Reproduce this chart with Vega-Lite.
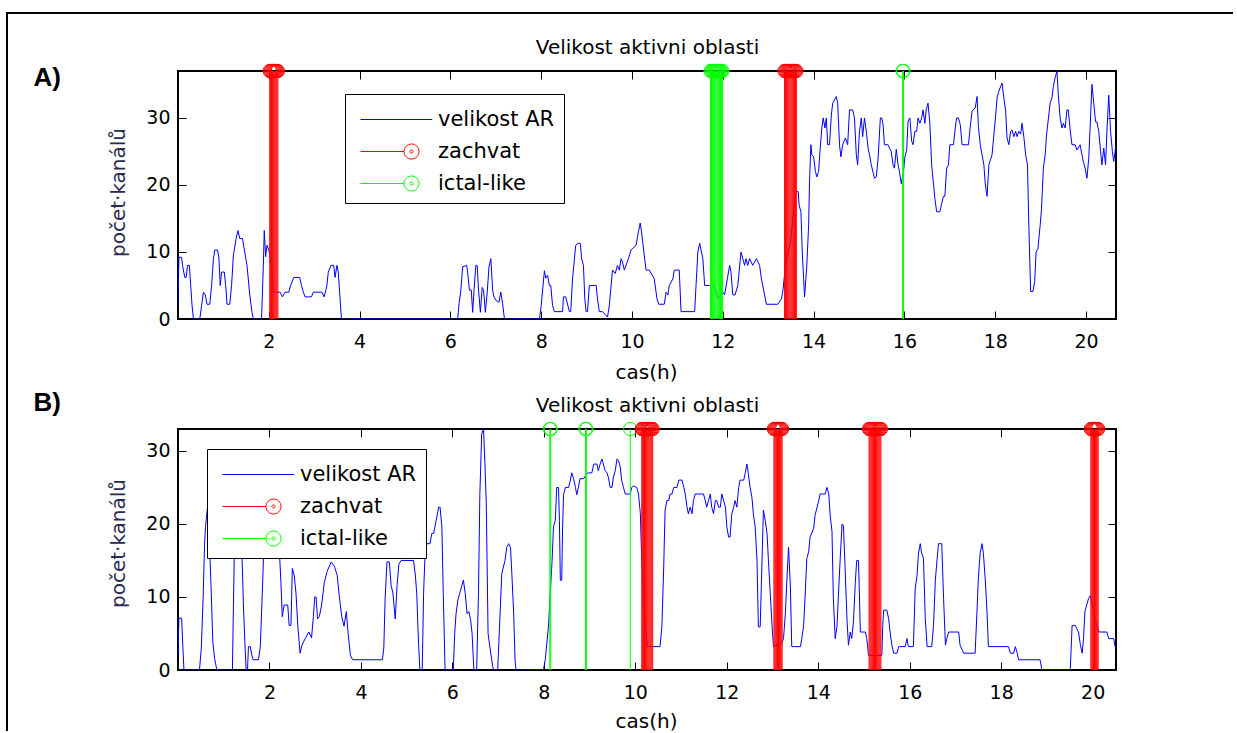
{
"$schema": "https://vega.github.io/schema/vega-lite/v6.json",
"background": "white",
"padding": {"left": 5, "top": 11, "right": 0, "bottom": 0},
"spacing": 110,
"bounds": "flush",
"datasets": {
"lineA": [{"t":0,"v":2},{"t":0.02,"v":9.2},{"t":0.08,"v":9.2},{"t":0.1,"v":8},{"t":0.15,"v":6.2},{"t":0.18,"v":6.2},{"t":0.21,"v":8},{"t":0.25,"v":8},{"t":0.28,"v":5},{"t":0.31,"v":2},{"t":0.34,"v":0},{"t":0.48,"v":0},{"t":0.52,"v":2},{"t":0.56,"v":4},{"t":0.6,"v":3.6},{"t":0.64,"v":2.2},{"t":0.7,"v":2.2},{"t":0.74,"v":5},{"t":0.78,"v":9},{"t":0.81,"v":10.3},{"t":0.87,"v":10.3},{"t":0.9,"v":9.2},{"t":0.93,"v":5},{"t":0.96,"v":7},{"t":1.02,"v":7},{"t":1.05,"v":5},{"t":1.08,"v":2.2},{"t":1.14,"v":2.2},{"t":1.18,"v":5},{"t":1.22,"v":9.5},{"t":1.28,"v":12},{"t":1.32,"v":13.2},{"t":1.36,"v":12},{"t":1.42,"v":12},{"t":1.47,"v":10},{"t":1.52,"v":8},{"t":1.58,"v":3.6},{"t":1.63,"v":1},{"t":1.66,"v":0},{"t":1.84,"v":0},{"t":1.88,"v":8},{"t":1.9,"v":13.2},{"t":1.93,"v":9.3},{"t":1.96,"v":11},{"t":2,"v":10.3},{"t":2.06,"v":8},{"t":2.1,"v":4},{"t":2.25,"v":4},{"t":2.3,"v":3.3},{"t":2.36,"v":4},{"t":2.44,"v":4},{"t":2.48,"v":5},{"t":2.55,"v":6.2},{"t":2.68,"v":6.2},{"t":2.72,"v":5},{"t":2.76,"v":4},{"t":2.8,"v":3.3},{"t":2.94,"v":3.3},{"t":2.98,"v":4},{"t":3.17,"v":4},{"t":3.22,"v":3.3},{"t":3.28,"v":5},{"t":3.31,"v":7},{"t":3.37,"v":8},{"t":3.43,"v":8},{"t":3.46,"v":6.2},{"t":3.5,"v":8},{"t":3.53,"v":7},{"t":3.57,"v":3},{"t":3.6,"v":0},{"t":6.16,"v":0},{"t":6.19,"v":2.3},{"t":6.23,"v":4.3},{"t":6.27,"v":7.8},{"t":6.36,"v":8},{"t":6.39,"v":6.3},{"t":6.42,"v":4.3},{"t":6.46,"v":4.3},{"t":6.49,"v":1},{"t":6.52,"v":4.3},{"t":6.56,"v":8},{"t":6.59,"v":8},{"t":6.62,"v":4.3},{"t":6.66,"v":1},{"t":6.7,"v":4.7},{"t":6.73,"v":4.3},{"t":6.77,"v":1},{"t":6.81,"v":3.9},{"t":6.85,"v":7.8},{"t":6.89,"v":9},{"t":6.93,"v":4.3},{"t":6.96,"v":3.3},{"t":7,"v":2.8},{"t":7.07,"v":2.5},{"t":7.11,"v":4},{"t":7.15,"v":2.3},{"t":7.19,"v":0},{"t":7.96,"v":0},{"t":8,"v":2},{"t":8.07,"v":7.2},{"t":8.1,"v":6.1},{"t":8.14,"v":6.5},{"t":8.18,"v":5},{"t":8.21,"v":5},{"t":8.25,"v":2},{"t":8.29,"v":1.1},{"t":8.47,"v":1.1},{"t":8.49,"v":3.3},{"t":8.54,"v":3.3},{"t":8.62,"v":1.1},{"t":8.65,"v":1.1},{"t":8.69,"v":6},{"t":8.76,"v":11},{"t":8.81,"v":11.3},{"t":8.86,"v":11.3},{"t":8.89,"v":9},{"t":8.93,"v":8},{"t":8.96,"v":3},{"t":8.99,"v":1.1},{"t":9.02,"v":1.1},{"t":9.06,"v":5},{"t":9.21,"v":5},{"t":9.24,"v":3},{"t":9.28,"v":1.1},{"t":9.35,"v":1.1},{"t":9.46,"v":0.3},{"t":9.5,"v":2},{"t":9.57,"v":7.3},{"t":9.63,"v":6.8},{"t":9.68,"v":8},{"t":9.72,"v":7.3},{"t":9.76,"v":9},{"t":9.79,"v":8.5},{"t":9.83,"v":7.3},{"t":9.92,"v":9},{"t":9.98,"v":10.3},{"t":10.09,"v":11},{"t":10.14,"v":13},{"t":10.18,"v":14.3},{"t":10.21,"v":13},{"t":10.26,"v":10},{"t":10.31,"v":7.3},{"t":10.38,"v":7.3},{"t":10.49,"v":6},{"t":10.55,"v":3},{"t":10.59,"v":2.2},{"t":10.71,"v":2.2},{"t":10.75,"v":4},{"t":10.79,"v":3.6},{"t":10.82,"v":5},{"t":10.9,"v":6},{"t":10.93,"v":7.3},{"t":11.04,"v":7.3},{"t":11.08,"v":1.1},{"t":11.38,"v":1.1},{"t":11.41,"v":5},{"t":11.45,"v":10},{"t":11.49,"v":11.3},{"t":11.52,"v":10.3},{"t":11.56,"v":9},{"t":11.6,"v":5},{"t":11.71,"v":5},{"t":11.8,"v":5},{"t":11.9,"v":3},{"t":12,"v":4},{"t":12.04,"v":3.6},{"t":12.1,"v":6},{"t":12.15,"v":8},{"t":12.18,"v":7},{"t":12.22,"v":3.6},{"t":12.27,"v":3.6},{"t":12.33,"v":5},{"t":12.4,"v":10},{"t":12.44,"v":9},{"t":12.48,"v":8},{"t":12.51,"v":9},{"t":12.55,"v":8},{"t":12.59,"v":9},{"t":12.66,"v":8},{"t":12.74,"v":9},{"t":12.81,"v":8},{"t":12.85,"v":6},{"t":12.92,"v":3.6},{"t":12.96,"v":2.2},{"t":13.21,"v":2.2},{"t":13.29,"v":3},{"t":13.32,"v":4},{"t":13.38,"v":8},{"t":13.5,"v":12},{"t":13.6,"v":19},{"t":13.66,"v":19},{"t":13.68,"v":17},{"t":13.72,"v":16},{"t":13.75,"v":10},{"t":13.78,"v":6},{"t":13.8,"v":3.3},{"t":13.83,"v":6},{"t":13.85,"v":8},{"t":13.89,"v":14},{"t":13.91,"v":20.5},{"t":13.94,"v":26},{"t":13.96,"v":24.5},{"t":14,"v":24.2},{"t":14.04,"v":22},{"t":14.07,"v":21.2},{"t":14.11,"v":22},{"t":14.14,"v":25},{"t":14.18,"v":28.5},{"t":14.21,"v":30},{"t":14.25,"v":28.5},{"t":14.28,"v":30},{"t":14.31,"v":26},{"t":14.35,"v":26},{"t":14.39,"v":30.4},{"t":14.42,"v":32.2},{"t":14.5,"v":33.2},{"t":14.53,"v":32.2},{"t":14.57,"v":26},{"t":14.6,"v":24.2},{"t":14.64,"v":26},{"t":14.7,"v":27},{"t":14.75,"v":26},{"t":14.79,"v":31.2},{"t":14.86,"v":31.2},{"t":14.9,"v":30},{"t":14.94,"v":24.5},{"t":14.97,"v":23},{"t":15.01,"v":28},{"t":15.05,"v":30},{"t":15.08,"v":27.2},{"t":15.12,"v":30},{"t":15.16,"v":28},{"t":15.2,"v":25.5},{"t":15.23,"v":24.5},{"t":15.27,"v":23},{"t":15.34,"v":21},{"t":15.38,"v":21.2},{"t":15.42,"v":24},{"t":15.47,"v":30},{"t":15.5,"v":30},{"t":15.53,"v":29},{"t":15.56,"v":26},{"t":15.64,"v":26},{"t":15.67,"v":25.5},{"t":15.71,"v":25},{"t":15.75,"v":23},{"t":15.78,"v":22.5},{"t":15.82,"v":25.3},{"t":15.86,"v":23},{"t":15.89,"v":22},{"t":15.93,"v":20.2},{"t":15.98,"v":22},{"t":16.01,"v":24.2},{"t":16.05,"v":25.2},{"t":16.08,"v":29.5},{"t":16.12,"v":30},{"t":16.16,"v":26.5},{"t":16.19,"v":26},{"t":16.23,"v":28},{"t":16.27,"v":28},{"t":16.3,"v":30},{"t":16.34,"v":29.2},{"t":16.38,"v":30},{"t":16.41,"v":31.2},{"t":16.45,"v":29.2},{"t":16.48,"v":31.2},{"t":16.52,"v":32.2},{"t":16.56,"v":29.2},{"t":16.6,"v":23},{"t":16.67,"v":18},{"t":16.71,"v":16},{"t":16.78,"v":16},{"t":16.82,"v":17.2},{"t":16.86,"v":18.3},{"t":16.89,"v":18.3},{"t":16.93,"v":22.5},{"t":16.97,"v":23},{"t":17,"v":26},{"t":17.08,"v":26},{"t":17.12,"v":28.5},{"t":17.15,"v":30},{"t":17.19,"v":30},{"t":17.23,"v":29},{"t":17.27,"v":26},{"t":17.41,"v":26},{"t":17.45,"v":28.7},{"t":17.49,"v":31},{"t":17.56,"v":31.5},{"t":17.6,"v":33.2},{"t":17.63,"v":28.7},{"t":17.67,"v":26},{"t":17.75,"v":23},{"t":17.78,"v":20.2},{"t":17.82,"v":18.3},{"t":17.86,"v":23},{"t":17.93,"v":24.5},{"t":18.01,"v":30.4},{"t":18.04,"v":33},{"t":18.08,"v":34},{"t":18.15,"v":35.2},{"t":18.19,"v":33},{"t":18.23,"v":31},{"t":18.26,"v":27},{"t":18.3,"v":26},{"t":18.34,"v":28},{"t":18.37,"v":28.2},{"t":18.41,"v":27.2},{"t":18.45,"v":28},{"t":18.48,"v":27.2},{"t":18.52,"v":28},{"t":18.56,"v":27.6},{"t":18.59,"v":29.2},{"t":18.63,"v":27.2},{"t":18.67,"v":24.5},{"t":18.71,"v":23},{"t":18.74,"v":14},{"t":18.78,"v":4.1},{"t":18.83,"v":4.1},{"t":18.87,"v":5.6},{"t":18.9,"v":10},{"t":18.94,"v":10.5},{"t":18.99,"v":14},{"t":19.02,"v":16.5},{"t":19.06,"v":22.5},{"t":19.1,"v":24.5},{"t":19.13,"v":27.5},{"t":19.21,"v":32.2},{"t":19.25,"v":33},{"t":19.28,"v":34.7},{"t":19.32,"v":36},{"t":19.36,"v":37},{"t":19.39,"v":33.4},{"t":19.43,"v":30},{"t":19.47,"v":28.5},{"t":19.5,"v":29.2},{"t":19.54,"v":28.5},{"t":19.58,"v":31.2},{"t":19.61,"v":31.2},{"t":19.65,"v":28.2},{"t":19.69,"v":26},{"t":19.76,"v":26},{"t":19.8,"v":25.2},{"t":19.87,"v":26},{"t":19.91,"v":24.5},{"t":19.94,"v":23.5},{"t":19.98,"v":22.5},{"t":20.02,"v":21},{"t":20.06,"v":24},{"t":20.09,"v":28.5},{"t":20.13,"v":35},{"t":20.17,"v":32.2},{"t":20.21,"v":29.4},{"t":20.24,"v":29.4},{"t":20.28,"v":28},{"t":20.32,"v":25},{"t":20.35,"v":23},{"t":20.39,"v":25.5},{"t":20.43,"v":23},{"t":20.46,"v":28},{"t":20.5,"v":33.4},{"t":20.54,"v":28},{"t":20.58,"v":25},{"t":20.61,"v":23.5},{"t":20.66,"v":26}],
"lineB": [{"t":0,"v":2},{"t":0.02,"v":7.1},{"t":0.08,"v":7.1},{"t":0.1,"v":4},{"t":0.13,"v":0},{"t":0.47,"v":0},{"t":0.51,"v":3},{"t":0.55,"v":10},{"t":0.58,"v":17},{"t":0.6,"v":19.5},{"t":0.64,"v":22},{"t":0.68,"v":19},{"t":0.7,"v":15.5},{"t":0.73,"v":10},{"t":0.76,"v":4},{"t":0.8,"v":1.6},{"t":0.85,"v":0},{"t":1.19,"v":0},{"t":1.21,"v":8},{"t":1.23,"v":15.5},{"t":1.27,"v":20},{"t":1.33,"v":22},{"t":1.38,"v":19},{"t":1.4,"v":15.5},{"t":1.43,"v":9},{"t":1.46,"v":4},{"t":1.49,"v":0},{"t":1.52,"v":0},{"t":1.54,"v":3.2},{"t":1.58,"v":3.2},{"t":1.61,"v":2.2},{"t":1.64,"v":1.4},{"t":1.76,"v":1.4},{"t":1.8,"v":3.2},{"t":1.84,"v":10},{"t":1.87,"v":15.5},{"t":1.95,"v":21},{"t":2.05,"v":23},{"t":2.15,"v":20},{"t":2.22,"v":16},{"t":2.25,"v":12},{"t":2.28,"v":7.3},{"t":2.32,"v":8.9},{"t":2.4,"v":8.9},{"t":2.43,"v":6.1},{"t":2.47,"v":6.1},{"t":2.5,"v":13.9},{"t":2.54,"v":13},{"t":2.58,"v":10.5},{"t":2.62,"v":6},{"t":2.67,"v":2.3},{"t":2.71,"v":3.4},{"t":2.78,"v":4.3},{"t":2.86,"v":5.2},{"t":2.92,"v":4.4},{"t":2.96,"v":7.3},{"t":2.99,"v":10},{"t":3.02,"v":10},{"t":3.05,"v":7},{"t":3.09,"v":7.3},{"t":3.14,"v":8.9},{"t":3.2,"v":12},{"t":3.26,"v":13.5},{"t":3.35,"v":14.8},{"t":3.42,"v":14.2},{"t":3.48,"v":13},{"t":3.52,"v":10.5},{"t":3.58,"v":7.3},{"t":3.63,"v":6},{"t":3.68,"v":8},{"t":3.72,"v":5},{"t":3.77,"v":2},{"t":3.82,"v":1.4},{"t":4.47,"v":1.4},{"t":4.5,"v":3},{"t":4.53,"v":10},{"t":4.57,"v":14.8},{"t":4.62,"v":14.8},{"t":4.66,"v":11.6},{"t":4.7,"v":10.5},{"t":4.75,"v":7},{"t":4.79,"v":11.6},{"t":4.83,"v":14.5},{"t":4.88,"v":15},{"t":5.15,"v":15},{"t":5.19,"v":13},{"t":5.22,"v":10.5},{"t":5.26,"v":3.6},{"t":5.29,"v":0},{"t":5.34,"v":0},{"t":5.37,"v":10.5},{"t":5.4,"v":15.5},{"t":5.44,"v":17.3},{"t":5.51,"v":17.3},{"t":5.55,"v":18.7},{"t":5.59,"v":18.7},{"t":5.63,"v":20},{"t":5.7,"v":22.3},{"t":5.73,"v":22.3},{"t":5.77,"v":19.6},{"t":5.8,"v":10.5},{"t":5.84,"v":0},{"t":6.02,"v":0},{"t":6.05,"v":5},{"t":6.08,"v":7.7},{"t":6.12,"v":9.6},{"t":6.16,"v":10.5},{"t":6.24,"v":12.3},{"t":6.28,"v":10.5},{"t":6.32,"v":7.7},{"t":6.36,"v":8},{"t":6.4,"v":6.8},{"t":6.43,"v":5},{"t":6.47,"v":0},{"t":6.53,"v":0},{"t":6.57,"v":10.5},{"t":6.6,"v":24},{"t":6.64,"v":32.3},{"t":6.68,"v":33},{"t":6.71,"v":28.5},{"t":6.74,"v":23},{"t":6.78,"v":5},{"t":6.81,"v":3.6},{"t":6.88,"v":0.5},{"t":6.9,"v":0},{"t":6.99,"v":0},{"t":7.03,"v":5.9},{"t":7.08,"v":13.2},{"t":7.15,"v":15},{"t":7.19,"v":16.8},{"t":7.23,"v":17.3},{"t":7.27,"v":16.8},{"t":7.3,"v":13.2},{"t":7.34,"v":7.7},{"t":7.37,"v":1.4},{"t":7.39,"v":0},{"t":7.99,"v":0},{"t":8.03,"v":1.4},{"t":8.07,"v":4},{"t":8.1,"v":5.9},{"t":8.14,"v":10.5},{"t":8.18,"v":15},{"t":8.21,"v":19.6},{"t":8.25,"v":20.5},{"t":8.28,"v":25},{"t":8.32,"v":25},{"t":8.34,"v":20.5},{"t":8.36,"v":12.3},{"t":8.39,"v":12.3},{"t":8.41,"v":19.6},{"t":8.43,"v":24},{"t":8.47,"v":25},{"t":8.54,"v":25},{"t":8.58,"v":26},{"t":8.61,"v":27},{"t":8.65,"v":26.2},{"t":8.69,"v":25},{"t":8.72,"v":24},{"t":8.76,"v":25.2},{"t":8.79,"v":26.2},{"t":8.87,"v":26.2},{"t":8.94,"v":26.9},{"t":8.98,"v":27},{"t":9.05,"v":27},{"t":9.09,"v":28.2},{"t":9.16,"v":28.2},{"t":9.19,"v":27.3},{"t":9.23,"v":28.2},{"t":9.27,"v":28.9},{"t":9.3,"v":28.2},{"t":9.34,"v":27.3},{"t":9.38,"v":27},{"t":9.41,"v":26.4},{"t":9.45,"v":25},{"t":9.49,"v":25},{"t":9.52,"v":26.4},{"t":9.56,"v":27.3},{"t":9.6,"v":28.9},{"t":9.63,"v":28.7},{"t":9.67,"v":27.8},{"t":9.7,"v":26},{"t":9.74,"v":25},{"t":9.78,"v":24.1},{"t":9.89,"v":24.1},{"t":9.92,"v":25},{"t":9.96,"v":25.2},{"t":10.03,"v":25},{"t":10.07,"v":24.1},{"t":10.11,"v":21.4},{"t":10.14,"v":15},{"t":10.2,"v":8},{"t":10.26,"v":3.2},{"t":10.54,"v":3.2},{"t":10.58,"v":5.9},{"t":10.62,"v":14},{"t":10.65,"v":21.9},{"t":10.69,"v":23.2},{"t":10.73,"v":23.2},{"t":10.76,"v":24.1},{"t":10.8,"v":24.1},{"t":10.84,"v":25},{"t":10.91,"v":25},{"t":10.95,"v":26},{"t":11.02,"v":26},{"t":11.06,"v":25},{"t":11.09,"v":24.1},{"t":11.13,"v":22.3},{"t":11.16,"v":21.4},{"t":11.2,"v":22.3},{"t":11.24,"v":21.4},{"t":11.27,"v":23.2},{"t":11.31,"v":24.1},{"t":11.49,"v":24.1},{"t":11.53,"v":23.2},{"t":11.56,"v":22.3},{"t":11.6,"v":23.2},{"t":11.64,"v":24.1},{"t":11.67,"v":22.3},{"t":11.71,"v":21.4},{"t":11.75,"v":23.2},{"t":11.78,"v":23.2},{"t":11.82,"v":22.3},{"t":11.86,"v":22.3},{"t":11.89,"v":24.1},{"t":11.93,"v":23.2},{"t":11.97,"v":22.3},{"t":12,"v":19.6},{"t":12.04,"v":18.2},{"t":12.07,"v":18.2},{"t":12.11,"v":21.4},{"t":12.15,"v":22.3},{"t":12.18,"v":23.2},{"t":12.22,"v":22.3},{"t":12.26,"v":25},{"t":12.29,"v":26},{"t":12.37,"v":26},{"t":12.4,"v":26.9},{"t":12.44,"v":28.2},{"t":12.47,"v":26.9},{"t":12.51,"v":25},{"t":12.55,"v":23.6},{"t":12.58,"v":21.4},{"t":12.62,"v":19.6},{"t":12.66,"v":15},{"t":12.69,"v":5.9},{"t":12.73,"v":5.9},{"t":12.77,"v":15},{"t":12.8,"v":21.9},{"t":12.84,"v":20.5},{"t":12.88,"v":18.7},{"t":12.91,"v":15},{"t":12.95,"v":10.5},{"t":12.99,"v":6},{"t":13.02,"v":3.2},{"t":13.2,"v":3.6},{"t":13.24,"v":4.3},{"t":13.28,"v":7.7},{"t":13.32,"v":13.2},{"t":13.35,"v":16.8},{"t":13.39,"v":11.4},{"t":13.42,"v":3.2},{"t":13.61,"v":3.2},{"t":13.64,"v":4.3},{"t":13.68,"v":6.1},{"t":13.71,"v":9.8},{"t":13.75,"v":15.3},{"t":13.79,"v":16.2},{"t":13.82,"v":18.2},{"t":13.9,"v":19.4},{"t":13.93,"v":21.2},{"t":14.01,"v":23.2},{"t":14.04,"v":24.1},{"t":14.15,"v":24.1},{"t":14.19,"v":25},{"t":14.23,"v":24.1},{"t":14.26,"v":21.2},{"t":14.3,"v":19},{"t":14.33,"v":9.8},{"t":14.37,"v":4.3},{"t":14.41,"v":6},{"t":14.45,"v":11.5},{"t":14.48,"v":15.3},{"t":14.52,"v":20},{"t":14.55,"v":19.8},{"t":14.59,"v":13.4},{"t":14.63,"v":6.6},{"t":14.66,"v":3.4},{"t":14.7,"v":5.2},{"t":14.73,"v":4.3},{"t":14.77,"v":6.6},{"t":14.81,"v":12},{"t":14.84,"v":15},{"t":14.88,"v":15},{"t":14.92,"v":5.2},{"t":15.03,"v":5.2},{"t":15.06,"v":4.3},{"t":15.1,"v":2},{"t":15.39,"v":2},{"t":15.41,"v":6.1},{"t":15.43,"v":8.2},{"t":15.5,"v":8.2},{"t":15.54,"v":7},{"t":15.57,"v":5.2},{"t":15.61,"v":3.4},{"t":15.65,"v":2.3},{"t":15.72,"v":2.3},{"t":15.76,"v":3.2},{"t":15.9,"v":3.2},{"t":15.94,"v":4.3},{"t":15.97,"v":3.2},{"t":16.08,"v":3.2},{"t":16.12,"v":11.2},{"t":16.16,"v":13},{"t":16.19,"v":15.9},{"t":16.23,"v":17.3},{"t":16.26,"v":16},{"t":16.3,"v":15.3},{"t":16.34,"v":7},{"t":16.38,"v":3.2},{"t":16.48,"v":3.2},{"t":16.52,"v":6.1},{"t":16.56,"v":12.3},{"t":16.6,"v":15.3},{"t":16.63,"v":17.3},{"t":16.7,"v":17.3},{"t":16.74,"v":9.8},{"t":16.78,"v":3.4},{"t":16.81,"v":4.3},{"t":16.85,"v":5.2},{"t":17.07,"v":5.2},{"t":17.1,"v":3.4},{"t":17.18,"v":2.3},{"t":17.43,"v":2.3},{"t":17.47,"v":8},{"t":17.5,"v":12.5},{"t":17.54,"v":16},{"t":17.58,"v":17.3},{"t":17.61,"v":16},{"t":17.65,"v":12.5},{"t":17.69,"v":8},{"t":17.72,"v":3.2},{"t":18.16,"v":3.2},{"t":18.2,"v":2.3},{"t":18.27,"v":2.3},{"t":18.31,"v":3.2},{"t":18.35,"v":2.3},{"t":18.38,"v":1.4},{"t":18.85,"v":1.4},{"t":18.89,"v":0},{"t":19.51,"v":0},{"t":19.55,"v":6.1},{"t":19.62,"v":6.1},{"t":19.69,"v":5.2},{"t":19.73,"v":3.5},{"t":19.77,"v":2.3},{"t":19.8,"v":4.3},{"t":19.83,"v":8},{"t":19.87,"v":8.9},{"t":19.91,"v":9.8},{"t":19.95,"v":10.2},{"t":20.05,"v":7},{"t":20.14,"v":5.2},{"t":20.31,"v":5.2},{"t":20.35,"v":4.3},{"t":20.46,"v":4.3},{"t":20.49,"v":3.2},{"t":20.51,"v":3.2}],
"evA": [{"t":2.02,"v":37,"s":"zachvat"},{"t":2.04,"v":37,"s":"zachvat"},{"t":2.06,"v":37,"s":"zachvat"},{"t":2.08,"v":37,"s":"zachvat"},{"t":2.1,"v":37,"s":"zachvat"},{"t":2.12,"v":37,"s":"zachvat"},{"t":2.14,"v":37,"s":"zachvat"},{"t":2.16,"v":37,"s":"zachvat"},{"t":2.18,"v":37,"s":"zachvat"},{"t":2.2,"v":37,"s":"zachvat"},{"t":11.73,"v":37,"s":"ictal-like"},{"t":11.75,"v":37,"s":"ictal-like"},{"t":11.77,"v":37,"s":"ictal-like"},{"t":11.79,"v":37,"s":"ictal-like"},{"t":11.81,"v":37,"s":"ictal-like"},{"t":11.83,"v":37,"s":"ictal-like"},{"t":11.85,"v":37,"s":"ictal-like"},{"t":11.87,"v":37,"s":"ictal-like"},{"t":11.89,"v":37,"s":"ictal-like"},{"t":11.91,"v":37,"s":"ictal-like"},{"t":11.93,"v":37,"s":"ictal-like"},{"t":11.95,"v":37,"s":"ictal-like"},{"t":11.97,"v":37,"s":"ictal-like"},{"t":11.99,"v":37,"s":"ictal-like"},{"t":13.36,"v":37,"s":"zachvat"},{"t":13.38,"v":37,"s":"zachvat"},{"t":13.4,"v":37,"s":"zachvat"},{"t":13.42,"v":37,"s":"zachvat"},{"t":13.44,"v":37,"s":"zachvat"},{"t":13.46,"v":37,"s":"zachvat"},{"t":13.48,"v":37,"s":"zachvat"},{"t":13.5,"v":37,"s":"zachvat"},{"t":13.52,"v":37,"s":"zachvat"},{"t":13.54,"v":37,"s":"zachvat"},{"t":13.56,"v":37,"s":"zachvat"},{"t":13.58,"v":37,"s":"zachvat"},{"t":13.6,"v":37,"s":"zachvat"},{"t":13.62,"v":37,"s":"zachvat"},{"t":15.96,"v":37,"s":"ictal-like"},{"t":15.98,"v":37,"s":"ictal-like"}],
"evB": [{"t":8.13,"v":33,"s":"ictal-like"},{"t":8.15,"v":33,"s":"ictal-like"},{"t":8.91,"v":33,"s":"ictal-like"},{"t":8.93,"v":33,"s":"ictal-like"},{"t":9.89,"v":33,"s":"ictal-like"},{"t":10.14,"v":33,"s":"zachvat"},{"t":10.16,"v":33,"s":"zachvat"},{"t":10.18,"v":33,"s":"zachvat"},{"t":10.2,"v":33,"s":"zachvat"},{"t":10.22,"v":33,"s":"zachvat"},{"t":10.24,"v":33,"s":"zachvat"},{"t":10.26,"v":33,"s":"zachvat"},{"t":10.28,"v":33,"s":"zachvat"},{"t":10.3,"v":33,"s":"zachvat"},{"t":10.32,"v":33,"s":"zachvat"},{"t":10.34,"v":33,"s":"zachvat"},{"t":10.36,"v":33,"s":"zachvat"},{"t":10.38,"v":33,"s":"zachvat"},{"t":13.03,"v":33,"s":"zachvat"},{"t":13.05,"v":33,"s":"zachvat"},{"t":13.07,"v":33,"s":"zachvat"},{"t":13.09,"v":33,"s":"zachvat"},{"t":13.11,"v":33,"s":"zachvat"},{"t":13.13,"v":33,"s":"zachvat"},{"t":13.15,"v":33,"s":"zachvat"},{"t":13.17,"v":33,"s":"zachvat"},{"t":13.19,"v":33,"s":"zachvat"},{"t":13.21,"v":33,"s":"zachvat"},{"t":15.11,"v":33,"s":"zachvat"},{"t":15.13,"v":33,"s":"zachvat"},{"t":15.15,"v":33,"s":"zachvat"},{"t":15.17,"v":33,"s":"zachvat"},{"t":15.19,"v":33,"s":"zachvat"},{"t":15.21,"v":33,"s":"zachvat"},{"t":15.23,"v":33,"s":"zachvat"},{"t":15.25,"v":33,"s":"zachvat"},{"t":15.27,"v":33,"s":"zachvat"},{"t":15.29,"v":33,"s":"zachvat"},{"t":15.31,"v":33,"s":"zachvat"},{"t":15.33,"v":33,"s":"zachvat"},{"t":15.35,"v":33,"s":"zachvat"},{"t":15.37,"v":33,"s":"zachvat"},{"t":19.96,"v":33,"s":"zachvat"},{"t":19.98,"v":33,"s":"zachvat"},{"t":20,"v":33,"s":"zachvat"},{"t":20.02,"v":33,"s":"zachvat"},{"t":20.04,"v":33,"s":"zachvat"},{"t":20.06,"v":33,"s":"zachvat"},{"t":20.08,"v":33,"s":"zachvat"},{"t":20.1,"v":33,"s":"zachvat"},{"t":20.12,"v":33,"s":"zachvat"}]
},
"vconcat": [
{
 "width": 938, "height": 248,
 "layer": [
  {"data": {"name": "lineA"}, "mark": {"type": "line", "strokeWidth": 1, "clip": true},
   "encoding": {
    "x": {"field": "t", "type": "quantitative", "scale": {"domain": [0, 20.66], "nice": false, "zero": false},
          "axis": {"orient": "bottom", "values": [2,4,6,8,10,12,14,16,18,20], "ticks": false, "labelPadding": 13, "title": "cas(h)", "titleX": 468, "titleY": 59, "titleBaseline": "alphabetic", "titleAlign": "center", "titleAngle": 0}},
    "y": {"field": "v", "type": "quantitative", "scale": {"domain": [0, 37], "nice": false, "zero": false},
          "axis": {"orient": "left", "values": [0,10,20,30], "ticks": false, "labelPadding": 8, "title": "počet·kanálů", "titleX": -54, "titleY": 121, "titleAngle": -90, "titleAlign": "center", "titleBaseline": "alphabetic", "titleColor": "#2a2a50"}},
    "color": {"datum": "velikost AR", "type": "nominal", "title": null,
      "scale": {"domain": ["velikost AR", "zachvat", "ictal-like"], "range": ["#0000ff", "#ff0000", "#00ff00"]},
      "legend": {"orient": "none", "legendX": 167, "legendY": 23, "title": null, "direction": "vertical", "columns": 1,
        "symbolSize": 1024, "symbolStrokeWidth": 1, "symbolType": "circle", "symbolOffset": -2, "labelFont": "DejaVu Sans", "labelFontSize": 21, "labelColor": "#000",
        "padding": 9, "rowPadding": 5, "labelOffset": 53, "strokeColor": "#000", "fillColor": "#fff",
        "encode": {"symbols": {"update": {"fill": {"value": "transparent"}, "opacity": {"value": 1}, "strokeWidth": {"value": 1},
          "stroke": {"signal": "datum.value === 'velikost AR' ? '#0000ff' : datum.value === 'zachvat' ? '#ff0000' : '#00ff00'"},
          "shape": {"signal": "datum.value === 'velikost AR' ? 'M-0.5,0L3.98,0' : 'M-0.5,0L2.219,0M3.157,0C3.157,0.259,2.947,0.469,2.688,0.469C2.429,0.469,2.219,0.259,2.219,0C2.219,-0.259,2.429,-0.469,2.688,-0.469C2.947,-0.469,3.157,-0.259,3.157,0ZM2.788,0C2.788,0.055,2.743,0.1,2.688,0.1C2.633,0.1,2.588,0.055,2.588,0C2.588,-0.055,2.633,-0.1,2.688,-0.1C2.743,-0.1,2.788,-0.055,2.788,0Z'"}}}}}}
   }},
  {"data": {"name": "evA"}, "mark": {"type": "rule", "strokeWidth": 1},
   "encoding": {
    "x": {"field": "t", "type": "quantitative",
          "axis": {"orient": "top", "values": [2,4,6,8,10,12,14,16,18,20], "labels": false, "ticks": true, "tickSize": 8, "offset": -8, "title": "A)", "titleX": -145, "titleY": 6, "titleAngle": 0, "titleAlign": "left", "titleBaseline": "alphabetic", "titleFont": "Liberation Sans", "titleFontSize": 26, "titleFontWeight": "bold"}},
    "y": {"field": "v", "type": "quantitative",
          "axis": {"orient": "right", "values": [0,10,20,30], "labels": false, "ticks": true, "tickSize": 8, "offset": -8, "title": "B)", "titleX": -1075, "titleY": 339, "titleAngle": 0, "titleAlign": "left", "titleBaseline": "alphabetic", "titleFont": "Liberation Sans", "titleFontSize": 26, "titleFontWeight": "bold"}},
    "y2": {"datum": 0},
    "color": {"field": "s", "type": "nominal", "title": null}
   }},
  {"data": {"name": "evA"}, "mark": {"type": "point", "shape": "circle", "filled": false, "size": 177, "strokeWidth": 1, "opacity": 1},
   "encoding": {
    "x": {"field": "t", "type": "quantitative",
          "axis": {"orient": "bottom", "values": [2,4,6,8,10,12,14,16,18,20], "labels": false, "ticks": true, "tickSize": 8, "offset": -8, "title": "Velikost aktivni oblasti", "titleX": 469, "titleY": -258, "titleAngle": 0, "titleAlign": "center", "titleBaseline": "alphabetic"}},
    "y": {"field": "v", "type": "quantitative",
          "axis": {"orient": "left", "values": [0,10,20,30], "labels": false, "ticks": true, "tickSize": 8, "offset": -8, "title": null}},
    "color": {"field": "s", "type": "nominal", "title": null}
   }},
  {"data": {"name": "evA"}, "mark": {"type": "point", "opacity": 0},
   "encoding": {
    "x": {"field": "t", "type": "quantitative", "axis": null},
    "y": {"field": "v", "type": "quantitative", "axis": null},
    "stroke": {"field": "v", "type": "quantitative", "scale": {"range": ["#ffffff", "#ffffff"]},
      "legend": {"type": "gradient", "orient": "none", "legendX": -171, "legendY": -58, "direction": "vertical", "gradientLength": 718, "gradientThickness": 1228, "gradientOpacity": 0, "gradientStrokeWidth": 0, "values": [], "labelExpr": "''", "labelFontSize": 1, "title": null, "padding": 0, "strokeColor": "#000",
        "encode": {"legend": {"update": {"strokeDash": {"value": [1226, 1948, 740, 0]}, "strokeWidth": {"value": 2}}}}}}
   }}
 ],
 "resolve": {"axis": {"x": "independent", "y": "independent"}}
},
{
 "width": 938, "height": 241,
 "layer": [
  {"data": {"name": "lineB"}, "mark": {"type": "line", "strokeWidth": 1, "clip": true},
   "encoding": {
    "x": {"field": "t", "type": "quantitative", "scale": {"domain": [0, 20.51], "nice": false, "zero": false},
          "axis": {"orient": "bottom", "values": [2,4,6,8,10,12,14,16,18,20], "ticks": false, "labelPadding": 13, "title": "cas(h)", "titleX": 468, "titleY": 57, "titleBaseline": "alphabetic", "titleAlign": "center", "titleAngle": 0}},
    "y": {"field": "v", "type": "quantitative", "scale": {"domain": [0, 33], "nice": false, "zero": false},
          "axis": {"orient": "left", "values": [0,10,20,30], "ticks": false, "labelPadding": 8, "title": "počet·kanálů", "titleX": -54, "titleY": 114, "titleAngle": -90, "titleAlign": "center", "titleBaseline": "alphabetic", "titleColor": "#2a2a50"}},
    "color": {"datum": "velikost AR", "type": "nominal", "title": null,
      "scale": {"domain": ["velikost AR", "zachvat", "ictal-like"], "range": ["#0000ff", "#ff0000", "#00ff00"]},
      "legend": {"orient": "none", "legendX": 29, "legendY": 20, "title": null, "direction": "vertical", "columns": 1,
        "symbolSize": 1024, "symbolStrokeWidth": 1, "symbolType": "circle", "symbolOffset": -2, "labelFont": "DejaVu Sans", "labelFontSize": 21, "labelColor": "#000",
        "padding": 9, "rowPadding": 5, "labelOffset": 53, "strokeColor": "#000", "fillColor": "#fff",
        "encode": {"symbols": {"update": {"fill": {"value": "transparent"}, "opacity": {"value": 1}, "strokeWidth": {"value": 1},
          "stroke": {"signal": "datum.value === 'velikost AR' ? '#0000ff' : datum.value === 'zachvat' ? '#ff0000' : '#00ff00'"},
          "shape": {"signal": "datum.value === 'velikost AR' ? 'M-0.5,0L3.98,0' : 'M-0.5,0L2.219,0M3.157,0C3.157,0.259,2.947,0.469,2.688,0.469C2.429,0.469,2.219,0.259,2.219,0C2.219,-0.259,2.429,-0.469,2.688,-0.469C2.947,-0.469,3.157,-0.259,3.157,0ZM2.788,0C2.788,0.055,2.743,0.1,2.688,0.1C2.633,0.1,2.588,0.055,2.588,0C2.588,-0.055,2.633,-0.1,2.688,-0.1C2.743,-0.1,2.788,-0.055,2.788,0Z'"}}}}}}
   }},
  {"data": {"name": "evB"}, "mark": {"type": "rule", "strokeWidth": 1},
   "encoding": {
    "x": {"field": "t", "type": "quantitative",
          "axis": {"orient": "top", "values": [2,4,6,8,10,12,14,16,18,20], "labels": false, "ticks": true, "tickSize": 8, "offset": -8, "title": null}},
    "y": {"field": "v", "type": "quantitative",
          "axis": {"orient": "right", "values": [0,10,20,30], "labels": false, "ticks": true, "tickSize": 8, "offset": -8, "title": null}},
    "y2": {"datum": 0},
    "color": {"field": "s", "type": "nominal", "title": null}
   }},
  {"data": {"name": "evB"}, "mark": {"type": "point", "shape": "circle", "filled": false, "size": 177, "strokeWidth": 1, "opacity": 1},
   "encoding": {
    "x": {"field": "t", "type": "quantitative",
          "axis": {"orient": "bottom", "values": [2,4,6,8,10,12,14,16,18,20], "labels": false, "ticks": true, "tickSize": 8, "offset": -8, "title": "Velikost aktivni oblasti", "titleX": 469, "titleY": -251, "titleAngle": 0, "titleAlign": "center", "titleBaseline": "alphabetic"}},
    "y": {"field": "v", "type": "quantitative",
          "axis": {"orient": "left", "values": [0,10,20,30], "labels": false, "ticks": true, "tickSize": 8, "offset": -8, "title": null}},
    "color": {"field": "s", "type": "nominal", "title": null}
   }}
 ],
 "resolve": {"axis": {"x": "independent", "y": "independent"}}
}
],
"resolve": {"scale": {"x": "independent", "y": "independent", "color": "independent", "stroke": "independent"}, "axis": {"x": "independent", "y": "independent"}, "legend": {"color": "independent", "stroke": "independent"}},
"config": {
 "font": "DejaVu Sans",
 "view": {"stroke": "#000", "strokeWidth": 2, "fill": "#fff"},
 "axis": {"domain": false, "grid": false, "labelFont": "DejaVu Sans", "labelFontSize": 19, "labelColor": "#000", "titleFont": "DejaVu Sans", "titleFontSize": 20, "titleColor": "#000", "titleFontWeight": "normal", "tickColor": "#000", "tickWidth": 1, "labelFlush": false, "labelOverlap": false, "zindex": 1},
 "title": {"font": "DejaVu Sans", "fontSize": 20, "fontWeight": "normal", "color": "#000"}
}
}
